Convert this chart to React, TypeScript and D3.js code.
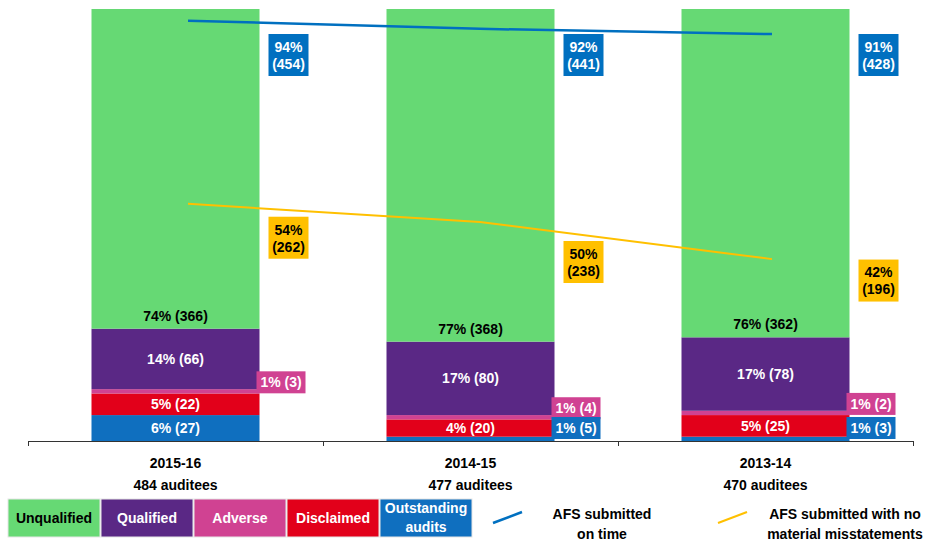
import React from "react";
import * as d3 from "d3";

const categories = ["2015-16", "2014-15", "2013-14"];
const auditees = ["484 auditees", "477 auditees", "470 auditees"];

// stacked series (bottom to top), percentages and counts
const outstandingPct = [6, 1, 1];
const outstandingN = [27, 5, 3];
const disclaimedPct = [5, 4, 5];
const disclaimedN = [22, 20, 25];
const adversePct = [1, 1, 1];
const adverseN = [3, 4, 2];
const qualifiedPct = [14, 17, 17];
const qualifiedN = [66, 80, 78];
const unqualifiedPct = [74, 77, 76];
const unqualifiedN = [366, 368, 362];

// lines
const onTimePct = [94, 92, 91];
const onTimeN = [454, 441, 428];
const onTimePlot = [97.3, 95.4, 94.2];
const noMisPct = [54, 50, 42];
const noMisN = [262, 238, 196];
const noMisPlot = [54.9, 50.7, 42.1];

const C = {
  unq: "#66D974",
  qual: "#5A2885",
  adv: "#D04292",
  dis: "#E2001A",
  out: "#0F6FBF",
  line1: "#0070C0",
  line2: "#FFC000",
};

const FONT = "'Liberation Sans Narrow', 'Liberation Sans', Arial, sans-serif";

const series = [
  { key: "out", name: "Outstanding audits", pct: outstandingPct, n: outstandingN, color: C.out, text: "#fff" },
  { key: "dis", name: "Disclaimed", pct: disclaimedPct, n: disclaimedN, color: C.dis, text: "#fff" },
  { key: "adv", name: "Adverse", pct: adversePct, n: adverseN, color: C.adv, text: "#fff" },
  { key: "qual", name: "Qualified", pct: qualifiedPct, n: qualifiedN, color: C.qual, text: "#fff" },
  { key: "unq", name: "Unqualified", pct: unqualifiedPct, n: unqualifiedN, color: C.unq, text: "#000" },
];

export default function App() {
  const W = 925, H = 543;
  const x = d3.scaleBand().domain(categories).range([28, 913]).padding(0);
  const barW = 168;
  const y = d3.scaleLinear().domain([0, 100]).range([441, 9]);
  const lx = d3.scalePoint().domain(categories).range([188, 772]);

  const stacked = categories.map((c, i) => {
    let acc = 0;
    return series.map((s) => {
      const y0 = acc;
      acc += s.pct[i];
      return { ...s, y0, y1: acc, v: s.pct[i], cnt: s.n[i] };
    });
  });

  const line = d3.line<number>().x((_, i) => lx(categories[i])!).y((d) => y(d));

  const fs = 14;
  const yellowDy = [30, 37, 21];

  const legendItems = [
    { name: "Unqualified", color: C.unq, text: "#000" },
    { name: "Qualified", color: C.qual, text: "#fff" },
    { name: "Adverse", color: C.adv, text: "#fff" },
    { name: "Disclaimed", color: C.dis, text: "#fff" },
    { name: "Outstanding|audits", color: C.out, text: "#fff" },
  ];

  return (
    <svg width={W} height={H} style={{ position: "absolute", left: 0, top: 0 }} fontFamily={FONT} fontWeight="bold">
      <rect width={W} height={H} fill="#fff" />
      {categories.map((c, i) => {
        const cx = x(c)! + x.bandwidth() / 2;
        const bx = cx - barW / 2;
        return (
          <g key={c}>
            {stacked[i].map((s) => (
              <rect key={s.key} x={bx} width={barW} y={y(s.y1)} height={y(s.y0) - y(s.y1)} fill={s.color} />
            ))}
            {stacked[i].map((s) => {
              const h = y(s.y0) - y(s.y1);
              if (h < 15) return null;
              const ty = s.key === "unq" ? y(s.y0) - 13 : (y(s.y0) + y(s.y1)) / 2;
              return (
                <text key={s.key} x={cx} y={ty} dy="0.35em" textAnchor="middle" fontSize={fs} fill={s.text}>
                  {`${s.v}% (${s.cnt})`}
                </text>
              );
            })}
          </g>
        );
      })}
      {/* outside labels for small segments */}
      {categories.map((c, i) => {
        const right = x(c)! + x.bandwidth() / 2 + barW / 2 - 3;
        const out = [];
        const adv = stacked[i][2];
        const advCy = (y(adv.y0) + y(adv.y1)) / 2 - 9;
        out.push(
          <g key="adv">
            <rect x={right} y={advCy - 11} width={49} height={22} fill={C.adv} />
            <text x={right + 24.5} y={advCy} dy="0.35em" textAnchor="middle" fontSize={fs} fill="#fff">{`${adv.v}% (${adv.cnt})`}</text>
          </g>
        );
        const o = stacked[i][0];
        if (y(o.y0) - y(o.y1) < 15) {
          const cy = y(0) - 13;
          out.push(
            <g key="out">
              <rect x={right} y={cy - 11} width={49} height={22} fill={C.out} />
              <text x={right + 24.5} y={cy} dy="0.35em" textAnchor="middle" fontSize={fs} fill="#fff">{`${o.v}% (${o.cnt})`}</text>
            </g>
          );
        }
        return <g key={c}>{out}</g>;
      })}
      {/* lines */}
      <path d={line(onTimePlot)!} fill="none" stroke={C.line1} strokeWidth={2.5} />
      <path d={line(noMisPlot)!} fill="none" stroke={C.line2} strokeWidth={2} />
      {categories.map((c, i) => {
        const bx = x(c)! + x.bandwidth() / 2 + barW / 2 + 9;
        const cy1 = 55;
        const cy2 = y(noMisPct[i]) + yellowDy[i];
        return (
          <g key={c}>
            <rect x={bx} y={cy1 - 21} width={40} height={42} fill={C.line1} />
            <text x={bx + 20} y={cy1 - 8} dy="0.35em" textAnchor="middle" fontSize={fs} fill="#fff">{`${onTimePct[i]}%`}</text>
            <text x={bx + 20} y={cy1 + 9} dy="0.35em" textAnchor="middle" fontSize={fs} fill="#fff">{`(${onTimeN[i]})`}</text>
            <rect x={bx} y={cy2 - 21} width={40} height={42} fill={C.line2} />
            <text x={bx + 20} y={cy2 - 8} dy="0.35em" textAnchor="middle" fontSize={fs} fill="#000">{`${noMisPct[i]}%`}</text>
            <text x={bx + 20} y={cy2 + 9} dy="0.35em" textAnchor="middle" fontSize={fs} fill="#000">{`(${noMisN[i]})`}</text>
          </g>
        );
      })}
      {/* axis */}
      <line x1={28} x2={913} y1={441.5} y2={441.5} stroke="#333" strokeWidth={1} />
      {[...categories.map((c) => x(c)!), 913].map((t, i) => (
        <line key={i} x1={t + 0.5} x2={t + 0.5} y1={441} y2={446} stroke="#333" strokeWidth={1} />
      ))}
      {categories.map((c, i) => {
        const cx = x(c)! + x.bandwidth() / 2;
        return (
          <g key={c}>
            <text x={cx} y={463} dy="0.35em" textAnchor="middle" fontSize={fs} fill="#000">{c}</text>
            <text x={cx} y={485} dy="0.35em" textAnchor="middle" fontSize={fs} fill="#000">{auditees[i]}</text>
          </g>
        );
      })}
      {/* legend */}
      {legendItems.map((l, i) => {
        const lxp = 8 + i * 93;
        const lines = l.name.split("|");
        return (
          <g key={l.name}>
            <rect x={lxp} y={499} width={92} height={38} fill={l.color} stroke="#e6e6e6" strokeWidth={1} />
            {lines.map((t, j) => (
              <text key={j} x={lxp + 46} y={518 + (j - (lines.length - 1) / 2) * 19} dy="0.35em" textAnchor="middle" fontSize={fs} fill={l.text}>{t}</text>
            ))}
          </g>
        );
      })}
      <line x1={493} y1={523} x2={522} y2={512} stroke={C.line1} strokeWidth={2.5} />
      <text x={602} y={514} dy="0.35em" textAnchor="middle" fontSize={fs} fill="#000">AFS submitted</text>
      <text x={602} y={534} dy="0.35em" textAnchor="middle" fontSize={fs} fill="#000">on time</text>
      <line x1={718} y1={523} x2={747} y2={512} stroke={C.line2} strokeWidth={2} />
      <text x={845} y={514} dy="0.35em" textAnchor="middle" fontSize={fs} fill="#000">AFS submitted with no</text>
      <text x={845} y={534} dy="0.35em" textAnchor="middle" fontSize={fs} fill="#000">material misstatements</text>
    </svg>
  );
}
